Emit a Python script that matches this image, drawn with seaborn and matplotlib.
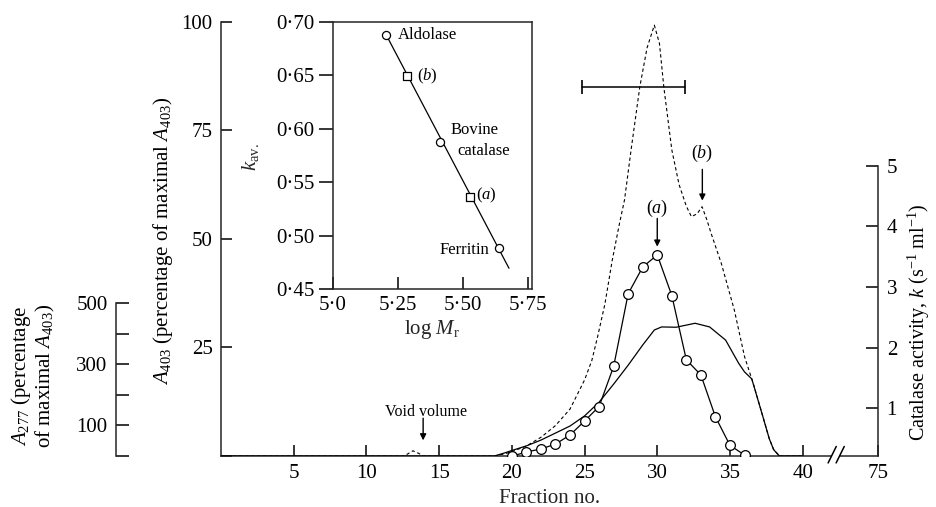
"""Gel filtration profile of catalase with a calibration inset."""

import matplotlib

matplotlib.use("Agg")
import matplotlib.pyplot as plt
import seaborn as sns

# A403 profile (dashed), percentage of maximal A403
A403_FRACTION = [0, 12.6, 12.9, 13.2, 13.6, 13.9, 18.8, 19.5, 20, 21, 22, 23, 24, 25, 25.5,
                 25.9, 26.4, 26.9, 27.4, 27.75, 28.2, 28.8, 29.3, 29.8, 30.15, 30.45, 31.0,
                 31.5, 32.0, 32.35, 32.75, 33.08, 33.4, 33.7, 34.4, 35.3, 36.0, 36.6, 37.2,
                 37.7, 38.0, 38.4, 40]
A403_PERCENT = [0, 0, 0.6, 1.2, 0.6, 0, 0, 0.5, 1.0, 2.3, 4.3, 7.0, 10.8, 17.5, 22,
                27.5, 35, 45, 53.5, 59, 70.5, 85, 94, 99.2, 95, 85, 70.5,
                62.5, 57.5, 55.1, 55.8, 57.4, 54.5, 51.3, 44.4, 33.6, 22.9, 16.7, 9.8,
                4.0, 1.5, 0, 0]

# A277 profile (solid), percentage of maximal A403
A277_FRACTION = [0, 18.8, 19.5, 20, 21, 22, 23, 24, 25, 26, 27, 28, 29, 29.8, 30.3, 31.3,
                 32.6, 33.6, 34.7, 35.6, 36.0, 36.5, 37.2, 37.7, 38.0, 38.4, 40]
A277_PERCENT = [0, 0, 10, 18, 33, 52, 75, 98, 131, 176, 235, 297, 363, 412, 422, 421,
                434, 422, 379, 303, 275, 252, 139, 57, 21, 0, 0]

# catalase activity (open circles)
CAT_FRACTION = [20, 21, 22, 23, 24, 25, 26, 27, 28, 29, 30, 31, 32, 33, 34, 35, 36]
CAT_ACTIVITY = [0.21, 0.28, 0.33, 0.41, 0.56, 0.79, 1.03, 1.69, 2.89, 3.33, 3.53, 2.86,
                1.80, 1.55, 0.86, 0.39, 0.23]

# inset: calibration of the column
STD_NAMES = ["Aldolase", "Bovine", "catalase", "Ferritin"]
STD_LOG_MR = [5.205, 5.411, 5.636]
STD_KAV = [0.688, 0.588, 0.4882]
PEAK_NAMES = ["(b)", "(a)"]
PEAK_LOG_MR = [5.284, 5.526]
PEAK_KAV = [0.6495, 0.5365]

X_TICKS = [5, 10, 15, 20, 25, 30, 35, 40, 75]
POOL_RANGE = [24.8, 31.9]
POOL_LEVEL = 85

BREAK_SHIFT = 29.8  # fractions 40..75 squeezed behind the axis break
BREAK_MARKS = [42.03, 42.58]  # axis units of the two slashes


def axis_pos(fraction):
    return fraction if fraction <= 42 else fraction - BREAK_SHIFT


def dot(value, digits):
    return f"{value:.{digits}f}".replace(".", "\u00b7")


sns.set_theme(style="ticks")
plt.rcParams["font.family"] = ["Liberation Serif", "DejaVu Serif"]
plt.rcParams["mathtext.fontset"] = "custom"
plt.rcParams["mathtext.rm"] = "Liberation Serif"
plt.rcParams["mathtext.it"] = "Liberation Serif:italic"
plt.rcParams["axes.linewidth"] = 1.1
plt.rcParams["text.color"] = "black"

W, H = 936, 507
fig = plt.figure(figsize=(W / 100, H / 100), dpi=100)

left, right, bottom, top = 221, 878.3, 456, 21.7
ax = fig.add_axes([left / W, (H - bottom) / H, (right - left) / W, (bottom - top) / H])
ax.set_xlim(0, axis_pos(75))
ax.set_ylim(0, 100)

# dashed A403 trace
sns.lineplot(x=A403_FRACTION, y=A403_PERCENT, ax=ax, color="black", lw=0.8,
             linestyle=(0, (3, 2.4)))
# solid A277 trace on its own scale
ax277 = ax.twinx()
ax277.set_ylim(0, 1420)
sns.lineplot(x=A277_FRACTION, y=A277_PERCENT, ax=ax277, color="black", lw=0.9)
# catalase activity
axcat = ax.twinx()
axcat.set_ylim(0.214, 7.375)
sns.lineplot(x=CAT_FRACTION, y=CAT_ACTIVITY, ax=axcat, color="black", lw=0.9,
             marker="o", markersize=7, markerfacecolor="white",
             markeredgecolor="black", markeredgewidth=0.9)

# main axis styling
for name in ["top", "right"]:
    ax.spines[name].set_visible(False)
ax.spines["left"].set_bounds(0, 100)
ax.set_yticks([0, 25, 50, 75, 100], ["", "25", "50", "75", "100"])
ax.set_xticks([axis_pos(t) for t in X_TICKS], [str(t) for t in X_TICKS])
ax.tick_params(axis="both", direction="in", length=8, width=1.1, labelsize=15,
               colors="black")
ax.tick_params(axis="x", pad=6)
ax.tick_params(axis="y", pad=6)
ax.set_xlabel("Fraction no.", fontsize=15, labelpad=4)
ax.set_ylabel("")

# A277 axis pushed out to the left
for name in ["top", "right", "bottom"]:
    ax277.spines[name].set_visible(False)
ax277.spines["left"].set_visible(True)
ax277.spines["left"].set_position(("axes", (116 - left) / (right - left)))
ax277.spines["left"].set_bounds(0, 500)
ax277.yaxis.set_ticks_position("left")
ax277.set_yticks([0, 100, 200, 300, 400, 500], ["", "100", "", "300", "", "500"])
ax277.tick_params(axis="y", direction="in", length=9, width=1.1, labelsize=15, pad=6,
                  colors="black")
ax277.set_ylabel("")

# catalase axis on the right
for name in ["top", "left", "bottom"]:
    axcat.spines[name].set_visible(False)
axcat.spines["right"].set_bounds(0.214, 5)
axcat.set_yticks([1, 2, 3, 4, 5])
axcat.tick_params(axis="y", direction="in", length=9, width=1.1, labelsize=15, pad=6,
                  colors="black")
axcat.set_ylabel("")

# axis break on the fraction axis
ax.plot(BREAK_MARKS, [0, 0], color="white", lw=3, solid_capstyle="butt",
        clip_on=False, zorder=5)
for xb in BREAK_MARKS:
    ax.plot([xb - 0.28, xb + 0.28], [-1.6, 2.2], color="black", lw=1.1,
            clip_on=False, zorder=6)

# pooled fractions bar and peak markers
ax.plot(POOL_RANGE, [POOL_LEVEL] * 2, color="black", lw=1.1, marker="|", markersize=10,
        markeredgewidth=1.2)
arrow = dict(arrowstyle="-|>", color="black", lw=1.0, mutation_scale=9, shrinkA=0, shrinkB=0)
ax.annotate("", xy=(30.0, 48.2), xytext=(30.0, 54.7), arrowprops=arrow)
ax.text(30.0, 57.0, "$(a)$", ha="center", va="center", fontsize=13)
ax.annotate("", xy=(33.1, 58.8), xytext=(33.1, 66.0), arrowprops=arrow)
ax.text(33.1, 67.2, "$(b)$", ha="center", va="bottom", fontsize=13)
ax.annotate("", xy=(13.9, 3.6), xytext=(13.9, 8.7), arrowprops=arrow)
ax.text(14.1, 10.2, "Void volume", ha="center", va="center", fontsize=11.5)

# axis titles
fig.text(163 / W, 1 - 241 / H, "$A_{403}$ (percentage of maximal $A_{403}$)",
         rotation=90, ha="center", va="center", fontsize=15)
fig.text(33 / W, 1 - 376 / H, "$A_{277}$ (percentage\nof maximal $A_{403}$)",
         rotation=90, ha="center", va="center", fontsize=15, linespacing=1.05)
fig.text(919 / W, 1 - 322 / H, "Catalase activity, $k$ (s$^{-1}$ ml$^{-1}$)",
         rotation=90, ha="center", va="center", fontsize=14.5)

# inset: k_av against log M_r
in_l, in_r, in_b, in_t = 332.5, 531.7, 289.3, 21.7
axin = fig.add_axes([in_l / W, (H - in_b) / H, (in_r - in_l) / W, (in_b - in_t) / H])
axin.set_facecolor("white")
axin.set_xlim(5.0, 5.763)
axin.set_ylim(0.45, 0.70)
slope = (STD_KAV[-1] - STD_KAV[0]) / (STD_LOG_MR[-1] - STD_LOG_MR[0])
fit_x = [STD_LOG_MR[0], 5.676]
fit_y = [STD_KAV[0] + slope * (x - STD_LOG_MR[0]) for x in fit_x]
sns.lineplot(x=fit_x, y=fit_y, ax=axin, color="black", lw=0.9)
sns.scatterplot(x=STD_LOG_MR, y=STD_KAV, ax=axin, marker="o", s=34, facecolor="white",
                edgecolor="black", linewidth=0.9, zorder=3)
sns.scatterplot(x=PEAK_LOG_MR, y=PEAK_KAV, ax=axin, marker="s", s=40, facecolor="white",
                edgecolor="black", linewidth=0.9, zorder=3)
for name in ["top", "right", "bottom", "left"]:
    axin.spines[name].set_visible(True)
    axin.spines[name].set_linewidth(1.1)
yt = [0.45, 0.50, 0.55, 0.60, 0.65, 0.70]
axin.set_yticks(yt, [dot(v, 2) for v in yt])
xt = [5.0, 5.25, 5.5, 5.75]
axin.set_xticks(xt, ["5\u00b70", "5\u00b725", "5\u00b750", "5\u00b775"])
axin.tick_params(axis="y", direction="out", length=10, width=1.1, labelsize=15, pad=3,
                 colors="black")
axin.tick_params(axis="x", direction="in", length=9, width=1.1, labelsize=15, pad=5,
                 colors="black")
axin.set_xlabel("log $M_{\\rm r}$", fontsize=15, labelpad=2)
axin.set_ylabel("$k_{\\rm av.}$", fontsize=15, rotation=90)
axin.yaxis.set_label_coords(-0.36, 0.494)

axin.text(5.251, 0.688, STD_NAMES[0], ha="left", va="center", fontsize=12)
axin.text(5.452, 0.599, STD_NAMES[1], ha="left", va="center", fontsize=12)
axin.text(5.477, 0.579, STD_NAMES[2], ha="left", va="center", fontsize=12)
axin.text(5.599, 0.4866, STD_NAMES[3], ha="right", va="center", fontsize=12)
axin.text(5.322, 0.6490, "$(b)$", ha="left", va="center", fontsize=12)
axin.text(5.551, 0.538, "$(a)$", ha="left", va="center", fontsize=12)

fig.savefig("out.png", dpi=100, facecolor="white")
